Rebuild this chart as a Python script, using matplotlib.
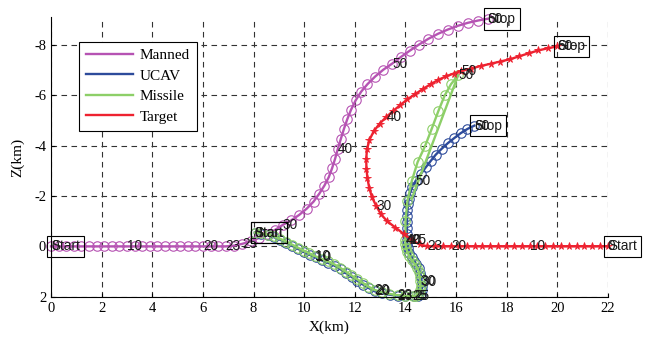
import matplotlib
matplotlib.use('Agg')
import matplotlib.pyplot as plt

plt.rcParams['axes.unicode_minus'] = False

# trajectory points (X in km, Z in km, Z axis reversed)
manned_x = [0.0, 0.3, 0.6, 0.9, 1.2, 1.5, 1.8, 2.1, 2.4, 2.7, 3.0, 3.3, 3.6, 3.9, 4.2, 4.5,
            4.8, 5.1, 5.4, 5.7, 6.0, 6.3, 6.6, 6.9, 7.22, 7.55, 7.88, 8.2, 8.52, 8.84, 9.15,
            9.48, 9.8, 10.1, 10.37, 10.6, 10.8, 10.97, 11.1, 11.22, 11.33,
            11.45, 11.57, 11.7, 11.85, 12.03, 12.25, 12.5, 12.8, 13.12, 13.48,
            13.82, 14.17, 14.53, 14.9, 15.28, 15.67, 16.07, 16.47, 16.87, 17.25]
manned_z = [0, 0, 0, 0, 0, 0, 0, 0, 0, 0, 0, 0, 0, 0, 0, 0,
            0, 0, 0, 0, 0, 0, 0, 0, -0.03, -0.1, -0.2, -0.33, -0.48, -0.65, -0.85,
            -1.03, -1.25, -1.5, -1.78, -2.1, -2.42, -2.75, -3.1, -3.48, -3.88,
            -4.28, -4.67, -5.05, -5.43, -5.8, -6.15, -6.45, -6.75, -7.02, -7.27,
            -7.53, -7.78, -8.02, -8.25, -8.45, -8.62, -8.77, -8.89, -8.98, -9.05]

ucav_x = [8.05, 8.31, 8.57, 8.82, 9.06, 9.3, 9.53, 9.76, 9.99, 10.22, 10.45,
          10.7, 10.96, 11.2, 11.44, 11.66, 11.88, 12.1, 12.33, 12.56, 12.8,
          13.08, 13.38, 13.7, 14.0, 14.35, 14.5, 14.6, 14.65, 14.66, 14.64,
          14.62, 14.58, 14.52, 14.43, 14.33, 14.24, 14.16, 14.1, 14.07, 14.05,
          14.05, 14.06, 14.06, 14.07, 14.08, 14.1, 14.13, 14.18, 14.27, 14.4,
          14.6, 14.8, 15.0, 15.2, 15.43, 15.67, 15.92, 16.18, 16.45, 16.72]
ucav_z = [-0.55, -0.5, -0.44, -0.36, -0.26, -0.14, -0.02, 0.1, 0.22, 0.33, 0.44,
          0.56, 0.66, 0.77, 0.91, 1.07, 1.22, 1.37, 1.52, 1.66, 1.79,
          1.87, 1.92, 1.96, 1.98, 1.99, 1.97, 1.88, 1.75, 1.58, 1.4,
          1.22, 1.04, 0.87, 0.72, 0.58, 0.42, 0.25, 0.08, -0.09, -0.26,
          -0.5, -0.73, -0.97, -1.2, -1.44, -1.67, -1.9, -2.13, -2.35, -2.6,
          -2.87, -3.14, -3.4, -3.65, -3.88, -4.1, -4.3, -4.5, -4.67, -4.8]

missile_x = [8.05, 8.3, 8.56, 8.81, 9.05, 9.29, 9.52, 9.75, 9.98, 10.21, 10.44,
             10.69, 10.94, 11.18, 11.42, 11.64, 11.86, 12.08, 12.31, 12.54, 12.78,
             13.07, 13.37, 13.69, 13.99, 14.28, 14.42, 14.52, 14.58, 14.6, 14.58,
             14.56, 14.53, 14.47, 14.37, 14.26, 14.16, 14.08, 14.03, 14.0, 14.0,
             14.0, 14.08, 14.25, 14.48, 14.78, 15.04, 15.3, 15.55, 15.8, 16.08]
missile_z = [-0.55, -0.52, -0.47, -0.4, -0.3, -0.19, -0.07, 0.05, 0.17, 0.28, 0.39,
             0.5, 0.6, 0.71, 0.85, 1.0, 1.15, 1.3, 1.45, 1.6, 1.73,
             1.82, 1.89, 1.94, 1.97, 1.98, 1.96, 1.87, 1.74, 1.57, 1.38,
             1.2, 1.02, 0.85, 0.7, 0.56, 0.4, 0.23, 0.06, -0.1, -0.26,
             -1.0, -1.8, -2.6, -3.35, -4.0, -4.68, -5.38, -6.0, -6.45, -6.8]
missile_tail_x = [16.08, 14.25]
missile_tail_z = [-6.8, -1.9]

target_x = [22.0, 21.69, 21.38, 21.07, 20.76, 20.45, 20.14, 19.83, 19.52, 19.21, 18.9,
            18.59, 18.28, 17.97, 17.66, 17.35, 17.04, 16.73, 16.42, 16.11, 15.8,
            15.49, 15.18, 14.87, 14.56, 14.25, 13.93, 13.6, 13.28, 13.03, 12.85,
            12.68, 12.57, 12.5, 12.46, 12.45, 12.48, 12.58, 12.75, 12.98, 13.25,
            13.52, 13.8, 14.08, 14.38, 14.68, 15.0, 15.3, 15.6, 15.9, 16.2,
            16.58, 16.97, 17.36, 17.75, 18.13, 18.5, 18.88, 19.25, 19.63, 20.0]
target_z = [0, 0, 0, 0, 0, 0, 0, 0, 0, 0, 0,
            0, 0, 0, 0, 0, 0, 0, 0, 0, 0,
            0, 0, 0, -0.08, -0.25, -0.5, -0.75, -1.0, -1.28, -1.6,
            -1.95, -2.32, -2.7, -3.08, -3.47, -3.86, -4.24, -4.58, -4.88, -5.15,
            -5.39, -5.62, -5.85, -6.05, -6.25, -6.45, -6.62, -6.76, -6.87, -6.97,
            -7.07, -7.17, -7.26, -7.35, -7.44, -7.56, -7.68, -7.79, -7.88, -7.95]

label_steps = [0, 10, 20, 23, 25, 30, 40, 50, 60]
names = ['Manned', 'UCAV', 'Missile', 'Target']
colors = ['#b653b3', '#2d4b9b', '#8dcf68', '#ee2230']

fig = plt.figure(figsize=(6.49, 3.39), dpi=100)
ax = fig.add_axes([0.0786, 0.1248, 0.8582, 0.8236])

ax.plot(manned_x, manned_z, color=colors[0], lw=1.7, marker='o', ms=6.8,
        mfc='none', mew=0.8, label=names[0], clip_on=False)
ax.plot(ucav_x, ucav_z, color=colors[1], lw=1.7, marker='o', ms=6.8,
        mfc='none', mew=0.8, label=names[1], clip_on=False)
ax.plot(missile_x, missile_z, color=colors[2], lw=1.7, marker='o', ms=6.8,
        mfc='none', mew=0.8, label=names[2], clip_on=False)
ax.plot(missile_tail_x, missile_tail_z, color=colors[2], lw=1.7, clip_on=False)
ax.plot(target_x, target_z, color=colors[3], lw=1.7, marker='*', ms=5.5,
        mew=0.6, label=names[3], clip_on=False)

# step numbers and Start/Stop boxes
txt = dict(fontsize=9.8, family='Liberation Sans', color='#1a1a1a', ha='left', va='center')
box = dict(boxstyle='square,pad=0.28', fc='none', ec='black', lw=0.8)
for xs, zs in [(manned_x, manned_z), (ucav_x, ucav_z), (missile_x, missile_z), (target_x, target_z)]:
    for i in label_steps:
        if i < len(xs):
            ax.text(xs[i], zs[i], str(i), **txt)
    ax.text(xs[0], zs[0], 'Start', bbox=box, **txt)
    if len(xs) == 61:
        ax.text(xs[-1], zs[-1], 'Stop', bbox=box, **txt)

ax.set_xlim(0, 22)
ax.set_ylim(2, -9.1)
ax.set_xticks(range(0, 23, 2))
ax.set_yticks([-8, -6, -4, -2, 0, 2])
ax.grid(True, color='#333333', linestyle=(0, (5, 4)), linewidth=0.8)
ax.set_axisbelow(True)
for s in ['top', 'right']:
    ax.spines[s].set_visible(False)
ax.spines['left'].set_linewidth(0.8)
ax.spines['bottom'].set_linewidth(0.8)
ax.tick_params(direction='in', length=3, width=0.8, labelsize=10.5)
for lab in ax.get_xticklabels() + ax.get_yticklabels():
    lab.set_family('Liberation Serif')
ax.set_xlabel('X(km)', family='Liberation Serif', fontsize=11, labelpad=4)
ax.set_ylabel('Z(km)', family='Liberation Serif', fontsize=11, labelpad=7)

leg = ax.legend(handles=ax.get_lines()[:3] + ax.get_lines()[4:], labels=names,
                loc='upper left', bbox_to_anchor=(0.05, 0.914), borderaxespad=0,
                fancybox=False, edgecolor='black', framealpha=1,
                prop={'family': 'Liberation Serif', 'size': 11},
                handlelength=3.1, handletextpad=0.45, labelspacing=0.45, borderpad=0.45)
for h in leg.legend_handles:
    h.set_marker('')
leg.get_frame().set_linewidth(0.8)

fig.savefig('out.png', dpi=100)
